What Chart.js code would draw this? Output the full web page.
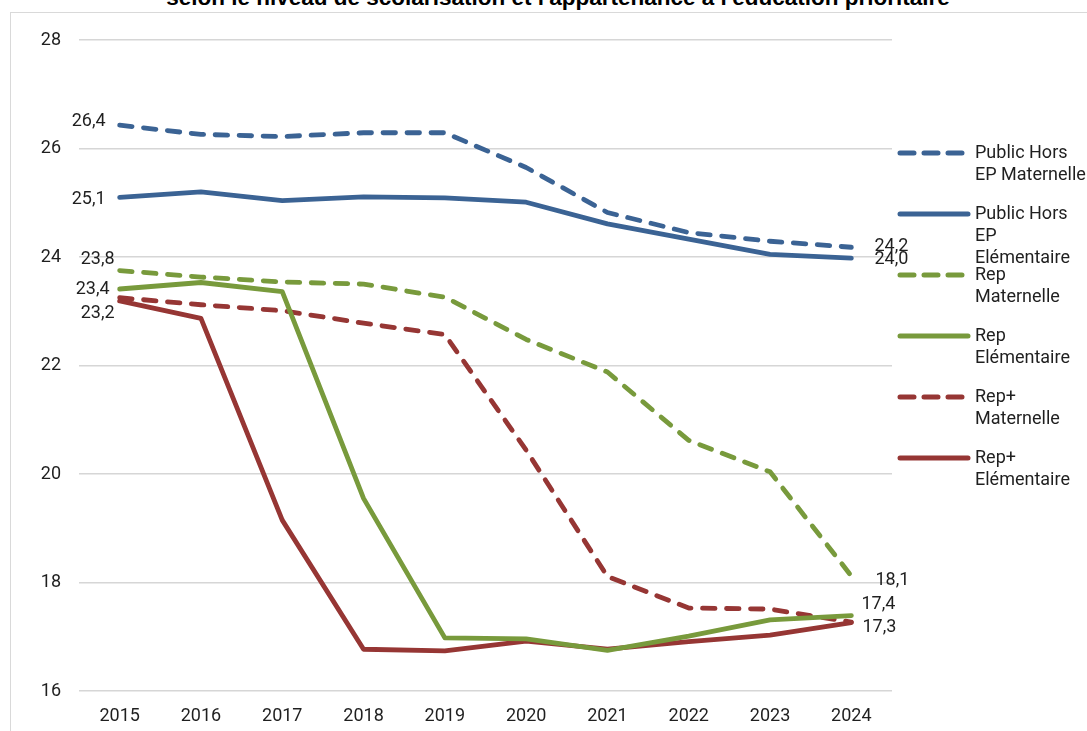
<!DOCTYPE html>
<html lang="fr">
<head>
<meta charset="UTF-8">
<title>Taille moyenne des classes</title>
<style>
  body { margin: 0; background: #fff; overflow: hidden; }
  #frame {
    position: absolute; left: 10px; top: 12px;
    width: 1200px; height: 800px;
    border: 1px solid #d9d9d9;
  }
  #title {
    position: absolute; left: 0; top: -13px; width: 1116px;
    text-align: center; white-space: nowrap;
    font: bold 22.5px "Liberation Sans", Arial, sans-serif;
    line-height: 22px; color: #000;
  }
  #wrap { position: absolute; left: 0; top: 0; width: 1087px; height: 731px; }
</style>
<script src="https://cdn.jsdelivr.net/npm/chart.js"></script>
</head>
<body>
<div id="frame"></div>
<div id="title">selon le niveau de scolarisation et l'appartenance à l'éducation prioritaire</div>
<div id="wrap"><canvas id="chart" width="1087" height="731"></canvas></div>

<script>
// data
const years = ['2015', '2016', '2017', '2018', '2019', '2020', '2021', '2022', '2023', '2024'];

const publicHorsEpMat  = [26.43, 26.26, 26.22, 26.29, 26.29, 25.65, 24.82, 24.45, 24.29, 24.18];
const publicHorsEpElem = [25.10, 25.20, 25.04, 25.11, 25.09, 25.01, 24.61, 24.33, 24.05, 23.98];
const repMat           = [23.75, 23.63, 23.54, 23.50, 23.26, 22.48, 21.88, 20.62, 20.04, 18.12];
const repElem          = [23.41, 23.53, 23.36, 19.55, 16.98, 16.96, 16.75, 17.01, 17.31, 17.39];
const repPlusMat       = [23.25, 23.12, 23.01, 22.78, 22.57, 20.44, 18.11, 17.53, 17.51, 17.27];
const repPlusElem      = [23.19, 22.87, 19.15, 16.77, 16.74, 16.92, 16.77, 16.91, 17.03, 17.26];

const seriesNames = [
  'Public Hors EP Maternelle',
  'Public Hors EP Elémentaire',
  'Rep Maternelle',
  'Rep Elémentaire',
  'Rep+ Maternelle',
  'Rep+ Elémentaire'
];
// how the legend wraps each name
const legendLines = [
  ['Public Hors', 'EP Maternelle'],
  ['Public Hors', 'EP', 'Elémentaire'],
  ['Rep', 'Maternelle'],
  ['Rep', 'Elémentaire'],
  ['Rep+', 'Maternelle'],
  ['Rep+', 'Elémentaire']
];

const yMin = 16, yMax = 28, yStep = 2;

const BLUE = '#3b6394';
const GREEN = '#789a3c';
const RED = '#963634';
const DASH = [12.5, 11.5];
const TEXT = '#1f1f1f';

// label offsets (px) for the first / last value of each series, null = no label
const labelOffsets = [
  { first: [-31, -4], last: [40, -1] },
  { first: [-31, 2],  last: [40, 1] },
  { first: [-22, -11], last: [41, 5] },
  { first: [-27, 0],  last: [27, -11] },
  { first: null,      last: null },
  { first: [-22, 13], last: [28, 5] }
];

function fmt(v) {
  return v.toFixed(1).replace('.', ',');
}

const valueLabels = {
  id: 'valueLabels',
  afterDatasetsDraw(chart) {
    const ctx = chart.ctx;
    ctx.save();
    ctx.font = '18px Roboto';
    ctx.fillStyle = TEXT;
    ctx.textAlign = 'center';
    ctx.textBaseline = 'middle';
    chart.data.datasets.forEach((ds, i) => {
      const meta = chart.getDatasetMeta(i);
      const off = labelOffsets[i];
      const last = ds.data.length - 1;
      [[0, off.first], [last, off.last]].forEach(([idx, o]) => {
        if (!o) return;
        const pt = meta.data[idx];
        ctx.fillText(fmt(ds.data[idx]), pt.x + o[0], pt.y + o[1]);
      });
    });
    ctx.restore();
  }
};

// legend on the right, names wrapped like the original
const sideLegend = {
  id: 'sideLegend',
  afterDraw(chart) {
    const ctx = chart.ctx;
    ctx.save();
    chart.data.datasets.forEach((ds, i) => {
      const y = 153 + i * 61;
      ctx.strokeStyle = ds.borderColor;
      ctx.lineWidth = 5;
      ctx.lineCap = 'round';
      ctx.setLineDash(ds.borderDash && ds.borderDash.length ? [14, 10] : []);
      ctx.beginPath();
      ctx.moveTo(900, y);
      ctx.lineTo(968, y);
      ctx.stroke();
      ctx.setLineDash([]);
      ctx.font = '18px Roboto';
      ctx.fillStyle = TEXT;
      ctx.textAlign = 'left';
      ctx.textBaseline = 'middle';
      legendLines[i].forEach((line, k) => {
        ctx.fillText(line, 975, y + k * 22);
      });
    });
    ctx.restore();
  }
};

function makeSet(i, data, color, dashed) {
  return {
    label: seriesNames[i],
    data: data,
    borderColor: color,
    backgroundColor: color,
    borderWidth: 4.8,
    borderDash: dashed ? DASH : [],
    borderCapStyle: 'round',
    borderJoinStyle: 'round',
    pointRadius: 0,
    tension: 0,
    fill: false
  };
}

const ctx = document.getElementById('chart').getContext('2d');
const chart = new Chart(ctx, {
  type: 'line',
  data: {
    labels: years,
    datasets: [
      makeSet(0, publicHorsEpMat, BLUE, true),
      makeSet(1, publicHorsEpElem, BLUE, false),
      makeSet(2, repMat, GREEN, true),
      makeSet(3, repElem, GREEN, false),
      makeSet(4, repPlusMat, RED, true),
      makeSet(5, repPlusElem, RED, false)
    ]
  },
  options: {
    responsive: false,
    animation: false,
    layout: { padding: { top: 40, right: 195, bottom: 0, left: 0 } },
    plugins: {
      legend: { display: false },
      tooltip: { enabled: false },
      title: { display: false }
    },
    scales: {
      x: {
        offset: true,
        grid: { display: false, drawTicks: false },
        border: { display: false },
        ticks: { color: TEXT, font: { family: 'Roboto', size: 18 }, padding: 15, maxRotation: 0 },
        afterFit(scale) { scale.height = 40; }
      },
      y: {
        min: yMin,
        max: yMax,
        grid: { color: '#d6d6d6', lineWidth: 1.5, drawTicks: false },
        border: { display: false },
        ticks: { stepSize: yStep, color: TEXT, font: { family: 'Roboto', size: 18 }, padding: 18 },
        afterFit(scale) { scale.width = 79; }
      }
    }
  },
  plugins: [valueLabels, sideLegend]
});
</script>
</body>
</html>
